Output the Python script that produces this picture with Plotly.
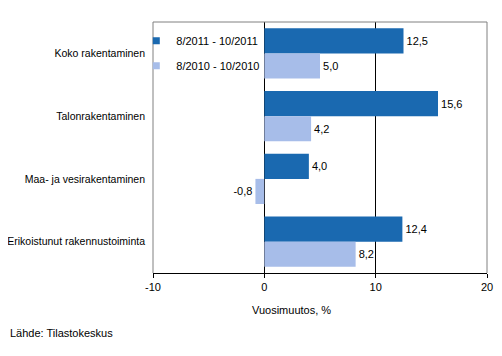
import plotly.graph_objects as go

categories = ["Koko rakentaminen", "Talonrakentaminen", "Maa- ja vesirakentaminen",
              "Erikoistunut rakennustoiminta"]
series_names = ["8/2011 - 10/2011", "8/2010 - 10/2010"]
values_2011 = [12.5, 15.6, 4.0, 12.4]
values_2010 = [5.0, 4.2, -0.8, 8.2]
x_ticks = [-10, 0, 10, 20]

colors = ["#1a69b0", "#a7bde9"]
font_family = "Liberation Sans, Arial, sans-serif"


def fmt(v):
    return f"{v:.1f}".replace(".", ",")


fig = go.Figure()
for name, vals, col in zip(series_names, [values_2011, values_2010], colors):
    fig.add_trace(go.Bar(
        y=categories, x=vals, name=name, orientation="h",
        marker=dict(color=col, line=dict(width=0)),
        text=[fmt(v) for v in vals], textposition="outside",
        textfont=dict(size=11, color="black", family=font_family),
        cliponaxis=False, showlegend=False,
    ))
# legend entries with small square symbols
for name, col in zip(series_names, colors):
    fig.add_trace(go.Scatter(
        x=[None], y=[None], mode="markers", name=name, legendgroup=name,
        marker=dict(symbol="square", size=7, color=col),
        showlegend=True,
    ))

# the page body has an 8px margin, so the figure is sized to fit after it
fig.update_layout(
    width=494, height=348,
    margin=dict(l=145, r=15, t=14, b=83),
    paper_bgcolor="white", plot_bgcolor="white",
    barmode="group", bargap=0.2, bargroupgap=0,
    font=dict(family=font_family, size=11, color="black"),
    showlegend=True,
    legend=dict(x=-0.05, y=0.983, xanchor="left", yanchor="top",
                bgcolor="rgba(0,0,0,0)", traceorder="grouped",
                font=dict(size=11), itemwidth=30, tracegroupgap=6),
    xaxis=dict(range=[-10, 20], tickvals=x_ticks,
               ticktext=[str(t) for t in x_ticks],
               showgrid=True, gridcolor="black", gridwidth=1,
               zeroline=False, showline=True, linecolor="black", linewidth=1,
               ticks="outside", ticklen=4, tickcolor="black",
               tickfont=dict(size=11), automargin=False),
    yaxis=dict(autorange="reversed", showgrid=False, zeroline=False,
               showline=False, ticks="", ticklabelstandoff=7,
               tickfont=dict(size=10.5), automargin=False),
    shapes=[dict(type="path", xref="paper", yref="paper",
                 path="M0,0 L0,1 L1,1 L1,0", line=dict(color="#808080", width=1),
                 layer="above")],
    annotations=[
        dict(text="Vuosimuutos, %", xref="paper", yref="paper", x=0.416, y=-0.115,
             xanchor="center", yanchor="top", showarrow=False, font=dict(size=11)),
        dict(text="Lähde: Tilastokeskus", xref="paper", yref="paper", x=-0.434,
             y=-0.207, xanchor="left", yanchor="top", showarrow=False,
             font=dict(size=11)),
    ],
)

fig.write_html("out.html")
